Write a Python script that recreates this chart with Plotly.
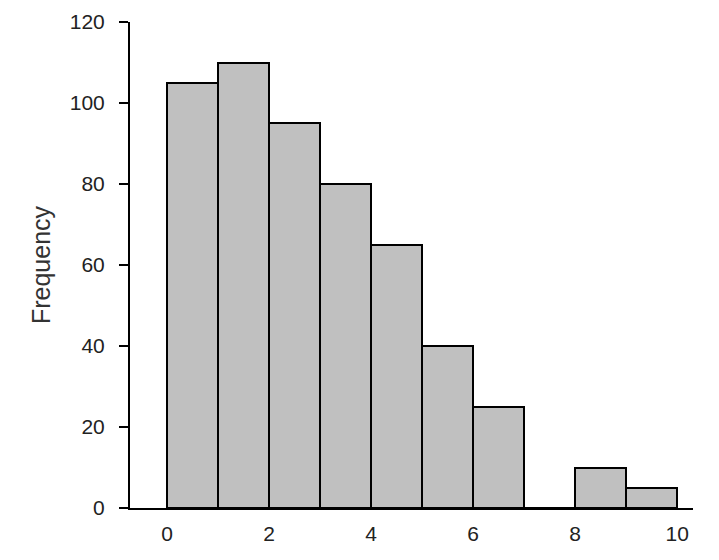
import plotly.graph_objects as go

bin_starts = [0, 1, 2, 3, 4, 5, 6, 7, 8, 9]
frequencies = [105, 110, 95, 80, 65, 40, 25, 0, 10, 5]
x_ticks = [0, 2, 4, 6, 8, 10]
y_ticks = [0, 20, 40, 60, 80, 100, 120]

centers = [b + 0.5 for b in bin_starts]

fig = go.Figure(
    go.Bar(
        x=centers,
        y=frequencies,
        width=[1] * len(centers),
        marker=dict(color="#c0c0c0", line=dict(color="black", width=2)),
    )
)

fig.update_layout(
    width=719,
    height=560,
    margin=dict(l=122, r=34, t=14, b=60, autoexpand=False),
    plot_bgcolor="white",
    paper_bgcolor="white",
    showlegend=False,
    bargap=0,
    font=dict(family="Liberation Sans, Arial, sans-serif", size=21, color="#222"),
)

fig.update_xaxes(
    range=[-0.725, 10.31],
    tickvals=x_ticks,
    ticktext=[str(v) for v in x_ticks],
    showgrid=False,
    zeroline=False,
    showline=True,
    linecolor="black",
    linewidth=2,
    ticks="",
    ticklabelstandoff=6,
    tickfont=dict(size=21),
)

fig.update_yaxes(
    range=[0, 120],
    tickvals=y_ticks,
    ticktext=[str(v) for v in y_ticks],
    showgrid=False,
    zeroline=False,
    showline=True,
    linecolor="black",
    linewidth=2,
    ticks="outside",
    ticklen=9,
    tickwidth=2,
    tickcolor="black",
    ticklabelstandoff=10,
    tickfont=dict(size=21),
    title=dict(text="Frequency", font=dict(size=25, color="#333"), standoff=12),
)

fig.write_html("out.html")
